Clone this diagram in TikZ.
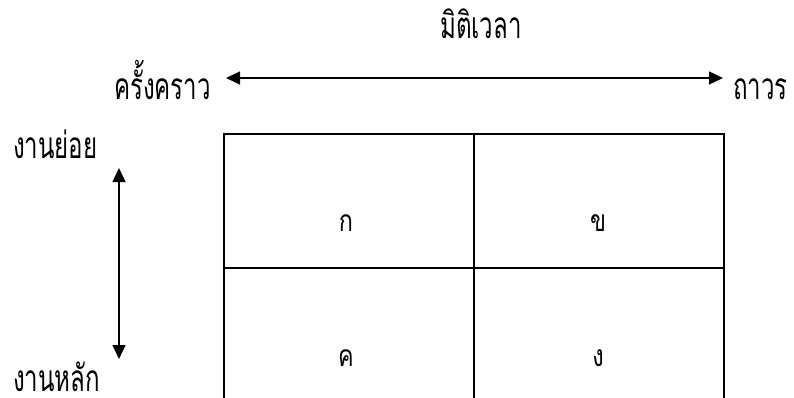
\documentclass[tikz,border=0pt]{standalone}
\usepackage{fontspec}
\newfontfamily\thaifont[Script=Thai, FakeStretch=0.65]{Loma}
\newfontfamily\thaicellfont[Script=Thai, FakeStretch=0.78]{Loma}
\usetikzlibrary{arrows.meta}

\tikzset{
  biglabel/.style={font=\thaifont\fontsize{37}{42}\selectfont, inner sep=0pt},
  celllabel/.style={font=\thaicellfont\fontsize{30}{34}\selectfont, inner sep=0pt},
  axisarrow/.style={{Triangle[length=14pt,width=13pt]}-{Triangle[length=14pt,width=13pt]}, line width=1.3pt},
}

\begin{document}
\begin{tikzpicture}[x=1pt,y=-1pt]
    \useasboundingbox (0,0) rectangle (794,398);

    % time axis
    \coordinate (tL) at (226,78);
    \coordinate (tR) at (723,78);
    \draw[axisarrow] (tL) -- (tR);
    \node[biglabel, anchor=base] (dim) at (481,39) {มิติเวลา};
    \node[biglabel, anchor=base east] (temp) at (211,100) {ครั้งคราว};
    \node[biglabel, anchor=base west] (perm) at (733,100) {ถาวร};

    % work axis
    \coordinate (wT) at (119,168);
    \coordinate (wB) at (119,359);
    \draw[axisarrow] (wT) -- (wB);
    \node[biglabel, anchor=base west] (minor) at (13,159) {งานย่อย};
    \node[biglabel, anchor=base west] (major) at (13,391) {งานหลัก};

    % grid
    \coordinate (g1) at (224,134);
    \coordinate (g2) at (474,134);
    \coordinate (g3) at (724,134);
    \draw[line width=1.3pt] (224,398) -- (g1) -- (g3) -- (724,398);
    \draw[line width=1.3pt] (g2) -- (474,398);
    \draw[line width=1.3pt] (224,268) -- (724,268);

    \node[celllabel, anchor=base] (ka) at (346,231) {ก};
    \node[celllabel, anchor=base] (kho) at (598,231) {ข};
    \node[celllabel, anchor=base] (kho2) at (346,366) {ค};
    \node[celllabel, anchor=base] (ngo) at (598,366) {ง};
\end{tikzpicture}
\end{document}
